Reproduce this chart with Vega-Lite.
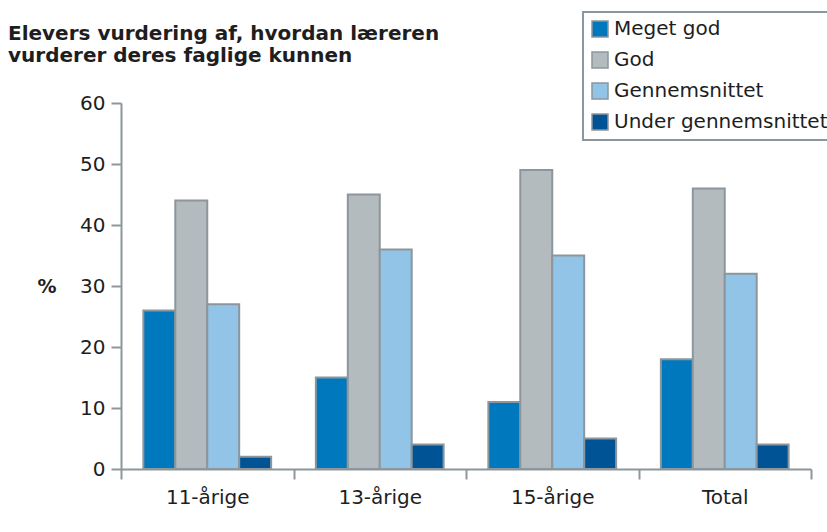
{
  "$schema": "https://vega.github.io/schema/vega-lite/v6.json",
  "width": 690,
  "height": 366,
  "autosize": "none",
  "padding": {"left": 121, "top": 103, "right": 16, "bottom": 63},
  "background": "white",
  "title": {
    "text": ["Elevers vurdering af, hvordan læreren", "vurderer deres faglige kunnen"],
    "anchor": "start",
    "frame": "group",
    "orient": "top",
    "dx": -113,
    "dy": 75,
    "offset": 0,
    "baseline": "bottom",
    "lineHeight": 22,
    "font": "DejaVu Sans",
    "fontSize": 20,
    "fontWeight": "bold",
    "color": "#1e1e1e"
  },
  "data": {
    "values": [
      {"group": "11-årige", "rating": "Meget god", "pct": 26},
      {"group": "11-årige", "rating": "God", "pct": 44},
      {"group": "11-årige", "rating": "Gennemsnittet", "pct": 27},
      {"group": "11-årige", "rating": "Under gennemsnittet", "pct": 2},
      {"group": "13-årige", "rating": "Meget god", "pct": 15},
      {"group": "13-årige", "rating": "God", "pct": 45},
      {"group": "13-årige", "rating": "Gennemsnittet", "pct": 36},
      {"group": "13-årige", "rating": "Under gennemsnittet", "pct": 4},
      {"group": "15-årige", "rating": "Meget god", "pct": 11},
      {"group": "15-årige", "rating": "God", "pct": 49},
      {"group": "15-årige", "rating": "Gennemsnittet", "pct": 35},
      {"group": "15-årige", "rating": "Under gennemsnittet", "pct": 5},
      {"group": "Total", "rating": "Meget god", "pct": 18},
      {"group": "Total", "rating": "God", "pct": 46},
      {"group": "Total", "rating": "Gennemsnittet", "pct": 32},
      {"group": "Total", "rating": "Under gennemsnittet", "pct": 4}
    ]
  },
  "mark": {"type": "bar", "stroke": "#8c969c", "strokeWidth": 2},
  "encoding": {
    "x": {
      "field": "group",
      "type": "nominal",
      "sort": ["11-årige", "13-årige", "15-årige", "Total"],
      "scale": {"paddingInner": 0, "paddingOuter": 0},
      "axis": {
        "title": null,
        "labelAngle": 0,
        "tickBand": "extent",
        "tickSize": 10,
        "labelPadding": 8
      }
    },
    "xOffset": {
      "field": "rating",
      "type": "nominal",
      "sort": ["Meget god", "God", "Gennemsnittet", "Under gennemsnittet"],
      "scale": {"paddingInner": 0, "paddingOuter": 0.7}
    },
    "y": {
      "field": "pct",
      "type": "quantitative",
      "scale": {"domain": [0, 60], "nice": false},
      "axis": {
        "title": "%",
        "values": [0, 10, 20, 30, 40, 50, 60],
        "grid": false,
        "tickSize": 10,
        "labelPadding": 6,
        "titleAngle": 0,
        "titleX": -65,
        "titleY": 183,
        "titleAlign": "right",
        "titleBaseline": "middle",
        "titleFontWeight": "bold"
      }
    },
    "color": {
      "field": "rating",
      "type": "nominal",
      "sort": ["Meget god", "God", "Gennemsnittet", "Under gennemsnittet"],
      "scale": {
        "domain": ["Meget god", "God", "Gennemsnittet", "Under gennemsnittet"],
        "range": ["#0078be", "#b4bbbf", "#92c4e8", "#005496"]
      },
      "legend": {
        "title": null,
        "orient": "none",
        "legendX": 462,
        "legendY": -91,
        "symbolType": "square",
        "symbolSize": 256,
        "symbolStrokeColor": "#8c969c",
        "symbolStrokeWidth": 1.5,
        "symbolOpacity": 1,
        "labelFontSize": 20,
        "labelOffset": 4,
        "labelLimit": 400,
        "rowPadding": 9,
        "padding": 7,
        "strokeColor": "#8c969c",
        "fillColor": "white"
      }
    }
  },
  "config": {
    "font": "DejaVu Sans",
    "view": {"stroke": null},
    "axis": {
      "domainColor": "#8c969c",
      "domainWidth": 2,
      "tickColor": "#8c969c",
      "tickWidth": 2,
      "labelFont": "DejaVu Sans",
      "labelFontSize": 20,
      "labelColor": "#1e1e1e",
      "titleFont": "DejaVu Sans",
      "titleFontSize": 19,
      "titleColor": "#1e1e1e"
    },
    "legend": {
      "labelFont": "DejaVu Sans",
      "labelColor": "#1e1e1e",
      "strokeWidth": 2
    }
  }
}
